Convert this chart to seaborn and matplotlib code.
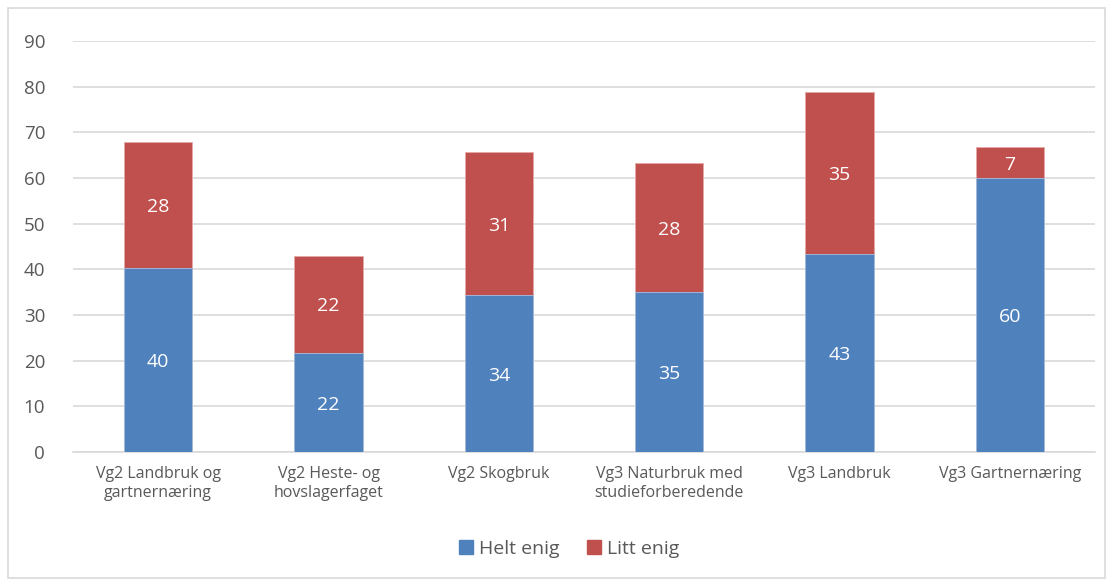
import matplotlib
matplotlib.use("Agg")
import matplotlib.pyplot as plt
import seaborn as sns
import pandas as pd
from matplotlib.patches import Rectangle, Patch

categories = ["Vg2 Landbruk og\ngartnernæring", "Vg2 Heste- og\nhovslagerfaget", "Vg2 Skogbruk",
              "Vg3 Naturbruk med\nstudieforberedende", "Vg3 Landbruk", "Vg3 Gartnernæring"]
helt_enig = [40.3, 21.6, 34.3, 35.0, 43.4, 60.0]
litt_enig = [27.6, 21.4, 31.4, 28.2, 35.4, 6.7]
helt_labels = ["40", "22", "34", "35", "43", "60"]
litt_labels = ["28", "22", "31", "28", "35", "7"]
yticks = [0, 10, 20, 30, 40, 50, 60, 70, 80, 90]

BLUE = "#4F81BD"
RED = "#C0504D"
GRAY = "#595959"

sns.set_theme(style="white")
plt.rcParams['font.family'] = ['Open Sans', 'DejaVu Sans']

df = pd.DataFrame({"cat": categories, "helt": helt_enig, "litt": litt_enig})
df["total"] = df["helt"] + df["litt"]

fig = plt.figure(figsize=(11.13, 5.82), dpi=100)
ax = fig.add_axes([73/1113, 1 - 452/582, (1095-73)/1113, (452-41)/582])

sns.barplot(data=df, x="cat", y="total", color=RED, width=0.4, saturation=1, ax=ax, zorder=2,
            edgecolor="#E6A9A7", linewidth=0.6)
sns.barplot(data=df, x="cat", y="helt", color=BLUE, width=0.4, saturation=1, ax=ax, zorder=3,
            edgecolor="#A7C0DE", linewidth=0.6)

for i, (h, l) in enumerate(zip(helt_enig, litt_enig)):
    ax.text(i, h / 2, helt_labels[i], ha="center", va="center_baseline", color="white", fontsize=14, zorder=4)
    ax.text(i, h + l / 2, litt_labels[i], ha="center", va="center_baseline", color="white", fontsize=14, zorder=4)

ax.set_ylim(0, 90)
ax.set_xlim(-0.5, 5.5)
ax.set_yticks(yticks)
ax.yaxis.grid(True, color="#D9D9D9", linewidth=1.2, zorder=0)
ax.set_axisbelow(True)
for s in ["top", "right", "left"]:
    ax.spines[s].set_visible(False)
ax.spines["bottom"].set_color("#D9D9D9")
ax.spines["bottom"].set_linewidth(1.2)
ax.set_xlabel("")
ax.set_ylabel("")
ax.tick_params(axis="y", colors=GRAY, labelsize=13.5, length=0, pad=20)
ax.tick_params(axis="x", colors=GRAY, labelsize=11.5, length=0, pad=10)
for t in ax.get_yticklabels():
    t.set_color(GRAY)
for t in ax.get_xticklabels():
    t.set_color(GRAY)
    t.set_linespacing(1.25)

handles = [Patch(color=BLUE, label="Helt enig"), Patch(color=RED, label="Litt enig")]
leg = fig.legend(handles=handles, loc="center", bbox_to_anchor=(569/1113, 1 - 549/582), ncol=2,
                 frameon=False, fontsize=14, handlelength=0.75, handleheight=0.75,
                 handletextpad=0.3, columnspacing=1.4)
for t in leg.get_texts():
    t.set_color(GRAY)

fig.patches.append(Rectangle((8/1113, 4/582), 1097/1113, 570/582, transform=fig.transFigure,
                             fill=False, edgecolor="#D9D9D9", linewidth=1.2))

fig.savefig("out.png", dpi=100)
